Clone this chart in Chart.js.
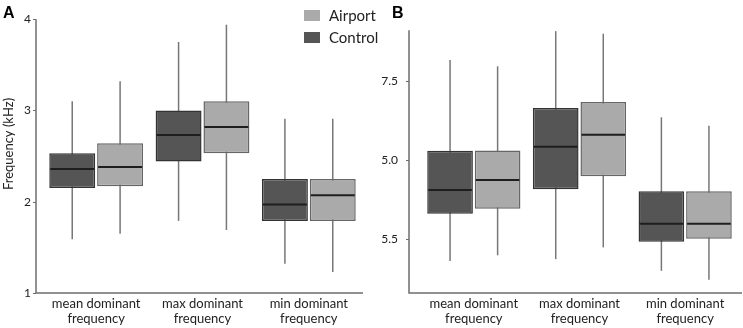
<!DOCTYPE html>
<html>
<head>
<meta charset="utf-8">
<script src="https://cdn.jsdelivr.net/npm/chart.js@4.4.1/dist/chart.umd.min.js"></script>
<style>
  html, body { margin: 0; padding: 0; background: #fff; }
  #wrap { position: relative; width: 743px; height: 328px; }
  .panel { position: absolute; top: 0; height: 328px; }
  #panelA { left: 0; width: 385px; }
  #panelB { left: 370px; width: 373px; }
</style>
</head>
<body>
<div id="wrap">
  <div class="panel" id="panelA"><canvas id="chartA"></canvas></div>
  <div class="panel" id="panelB"><canvas id="chartB"></canvas></div>
</div>
<script>
// categories
const categories = [['mean dominant', 'frequency'], ['max dominant', 'frequency'], ['min dominant', 'frequency']];
const seriesNames = ['Control', 'Airport'];

// panel A (kHz) - box plot stats
const aControlMin = [1.59, 1.79, 1.32];
const aControlQ1  = [2.15, 2.44, 1.79];
const aControlMed = [2.36, 2.73, 1.97];
const aControlQ3  = [2.53, 3.00, 2.25];
const aControlMax = [3.10, 3.75, 2.91];

const aAirportMin = [1.65, 1.69, 1.23];
const aAirportQ1  = [2.17, 2.53, 1.79];
const aAirportMed = [2.38, 2.82, 2.07];
const aAirportQ3  = [2.64, 3.10, 2.25];
const aAirportMax = [3.32, 3.94, 2.91];

// panel B
const bControlMin = [1.81, 1.87, 1.50];
const bControlQ1  = [3.30, 4.08, 2.42];
const bControlMed = [4.05, 5.42, 2.99];
const bControlQ3  = [5.29, 6.64, 4.01];
const bControlMax = [8.16, 9.07, 6.35];

const bAirportMin = [1.99, 2.24, 1.22];
const bAirportQ1  = [3.46, 4.49, 2.51];
const bAirportMed = [4.37, 5.80, 2.99];
const bAirportQ3  = [5.30, 6.83, 4.01];
const bAirportMax = [7.96, 8.99, 6.08];

// tick labels
const aTickValues = [1, 2, 3, 4];
const aTickLabels = ['1', '2', '3', '4'];
const bTickValues = [2.5, 5.0, 7.5];
const bTickLabels = ['5.5', '5.0', '7.5'];   // as printed in the figure

const FONT = 'Lato, "Liberation Sans", sans-serif';
const fills = ['#555555', '#aaaaaa'];
const borders = ['#333333', '#666666'];

function boxes(q1, q3) {
    return q1.map((v, i) => [v, q3[i]]);
}

// whiskers behind the boxes, medians on top
const boxPlotPlugin = {
    id: 'boxPlot',
    beforeDatasetsDraw(chart) {
        const c = chart.ctx, y = chart.scales.y;
        c.save();
        c.strokeStyle = '#777777';
        c.lineWidth = 1.5;
        chart.data.datasets.forEach((ds, di) => {
            chart.getDatasetMeta(di).data.forEach((bar, i) => {
                c.beginPath();
                c.moveTo(bar.x, y.getPixelForValue(ds.whiskMin[i]));
                c.lineTo(bar.x, y.getPixelForValue(ds.whiskMax[i]));
                c.stroke();
            });
        });
        c.restore();
    },
    afterDatasetsDraw(chart) {
        const c = chart.ctx, y = chart.scales.y;
        c.save();
        c.strokeStyle = '#1e1e1e';
        c.lineWidth = 2;
        chart.data.datasets.forEach((ds, di) => {
            chart.getDatasetMeta(di).data.forEach((bar, i) => {
                const py = y.getPixelForValue(ds.median[i]);
                c.beginPath();
                c.moveTo(bar.x - bar.width / 2 + 1, py);
                c.lineTo(bar.x + bar.width / 2 - 1, py);
                c.stroke();
            });
        });
        c.restore();
    }
};

// axis lines drawn a few px left of the plotting area, like the figure
const axisPlugin = {
    id: 'axisLines',
    afterDraw(chart, args, opts) {
        const c = chart.ctx, a = chart.chartArea, y = chart.scales.y;
        const x0 = a.left - opts.gap;
        c.save();
        c.strokeStyle = '#6e6e6e';
        c.lineWidth = 1.5;
        c.beginPath();
        c.moveTo(x0, a.top);
        c.lineTo(x0, a.bottom);
        c.lineTo(a.right + opts.extra, a.bottom);
        c.stroke();
        c.lineWidth = 1;
        y.ticks.forEach(t => {
            const py = Math.round(y.getPixelForValue(t.value)) + 0.5;
            c.beginPath();
            c.moveTo(x0 - 3, py);
            c.lineTo(x0, py);
            c.stroke();
        });
        // panel letter
        c.fillStyle = '#000';
        c.font = 'bold 16px "Liberation Sans", Arial, sans-serif';
        c.textBaseline = 'alphabetic';
        c.textAlign = 'left';
        c.fillText(opts.letter, opts.letterX, 18);
        if (opts.title) {
            c.save();
            c.translate(13, 144);
            c.rotate(-Math.PI / 2);
            c.textAlign = 'center';
            c.font = '13px ' + FONT;
            c.fillStyle = '#222';
            c.fillText(opts.title, 0, 0);
            c.restore();
        }
        if (opts.legend) {
            // Airport first, then Control
            [[1, 10], [0, 32]].forEach(([di, ly]) => {
                const ds = chart.data.datasets[di];
                c.fillStyle = ds.backgroundColor;
                c.fillRect(304, ly, 16, 11);
                c.fillStyle = '#222';
                c.font = '15px ' + FONT;
                c.textBaseline = 'middle';
                c.fillText(ds.label, 329, ly + 6);
            });
        }
        c.restore();
    }
};

function makePanel(id, cfg) {
    const ctx = document.getElementById(id).getContext('2d');
    return new Chart(ctx, {
        type: 'bar',
        data: {
            labels: categories,
            datasets: [0, 1].map(k => ({
                label: seriesNames[k],
                data: boxes(cfg.q1[k], cfg.q3[k]),
                median: cfg.med[k],
                whiskMin: cfg.min[k],
                whiskMax: cfg.max[k],
                backgroundColor: fills[k],
                borderColor: borders[k],
                borderWidth: 1.5,
                borderSkipped: false,
                categoryPercentage: 0.9,
                barPercentage: 0.96
            }))
        },
        plugins: [boxPlotPlugin, axisPlugin],
        options: {
            responsive: true,
            maintainAspectRatio: false,
            animation: false,
            layout: { padding: { top: cfg.padTop, right: cfg.padRight, left: 0, bottom: 0 } },
            plugins: {
                legend: { display: false },
                tooltip: { enabled: false },
                axisLines: { gap: cfg.gap, extra: cfg.extra, letter: cfg.letter, letterX: cfg.letterX, title: cfg.title, legend: cfg.legend }
            },
            scales: {
                x: {
                    grid: { display: false, drawTicks: false },
                    border: { display: false },
                    ticks: { color: '#222', padding: 4, font: { family: FONT, size: 13, lineHeight: 1.1 } },
                    afterFit(s) { s.height = 35; }
                },
                y: {
                    min: cfg.yMin,
                    max: cfg.yMax,
                    grid: { display: false, drawTicks: false },
                    border: { display: false },
                    afterBuildTicks(s) { s.ticks = cfg.tickValues.map(v => ({ value: v })); },
                    ticks: {
                        color: '#222',
                        padding: cfg.tickPad,
                        font: { family: FONT, size: 12 },
                        callback: v => cfg.tickLabels[cfg.tickValues.indexOf(v)]
                    },
                    afterFit(s) { s.width = cfg.yWidth; }
                }
            }
        }
    });
}

makePanel('chartA', {
    q1: [aControlQ1, aAirportQ1], q3: [aControlQ3, aAirportQ3], med: [aControlMed, aAirportMed],
    min: [aControlMin, aAirportMin], max: [aControlMax, aAirportMax],
    yMin: 1, yMax: 4, tickValues: aTickValues, tickLabels: aTickLabels,
    padTop: 18, padRight: 23, yWidth: 43, gap: 7, extra: 1, tickPad: 12,
    letter: 'A', letterX: 3, title: 'Frequency (kHz)', legend: true
});

makePanel('chartB', {
    q1: [bControlQ1, bAirportQ1], q3: [bControlQ3, bAirportQ3], med: [bControlMed, bAirportMed],
    min: [bControlMin, bAirportMin], max: [bControlMax, bAirportMax],
    yMin: 0.8, yMax: 9.1, tickValues: bTickValues, tickLabels: bTickLabels,
    padTop: 9, padRight: 5, yWidth: 51, gap: 12, extra: 4, tickPad: 23,
    letter: 'B', letterX: 22, title: null, legend: false
});
</script>
</body>
</html>
